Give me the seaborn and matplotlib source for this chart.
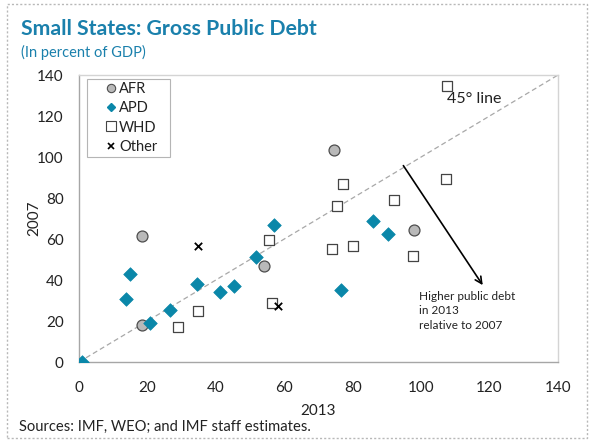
import matplotlib
matplotlib.use("Agg")
import matplotlib.pyplot as plt
import seaborn as sns
import pandas as pd
from matplotlib.patches import Rectangle
from matplotlib.lines import Line2D

# ---- data (x = 2013, y = 2007, percent of GDP) ----
afr_2013 = [18.5, 18.5, 54.1, 74.5, 98.0]
afr_2007 = [61.5, 17.9, 46.8, 103.6, 64.5]

apd_2013 = [1.0, 13.6, 15.0, 20.8, 26.5, 34.6, 41.3, 45.2, 51.6, 57.1, 76.6, 85.8, 90.2]
apd_2007 = [0.0, 30.9, 42.9, 18.9, 25.5, 38.0, 34.1, 37.1, 51.1, 66.8, 35.1, 68.9, 62.4]

whd_2013 = [28.9, 34.7, 55.6, 56.3, 73.8, 75.4, 77.3, 80.0, 92.2, 97.7, 107.4, 107.7]
whd_2007 = [17.1, 24.7, 59.5, 28.9, 55.0, 76.1, 86.8, 56.6, 78.9, 51.5, 89.1, 134.6]

oth_2013 = [34.9, 58.3]
oth_2007 = [56.4, 27.3]

groups = ["AFR", "APD", "WHD", "Other"]
x_ticks = [0, 20, 40, 60, 80, 100, 120, 140]
y_ticks = [0, 20, 40, 60, 80, 100, 120, 140]

df = pd.DataFrame({
    "x": afr_2013 + apd_2013 + whd_2013 + oth_2013,
    "y": afr_2007 + apd_2007 + whd_2007 + oth_2007,
    "group": (["AFR"] * len(afr_2013) + ["APD"] * len(apd_2013)
              + ["WHD"] * len(whd_2013) + ["Other"] * len(oth_2013)),
})

sns.set_theme(style="white")
plt.rcParams["font.family"] = ["Lato", "DejaVu Sans"]

TEAL = "#0a87a9"
TITLE = "#1a80ac"
TXT = "#222222"
styles = {
    "AFR": dict(marker="o", color="#b9b9b9", edgecolor="#4d4d4d", s=62, linewidth=0.9),
    "APD": dict(marker="D", color=TEAL, edgecolor=TEAL, s=48, linewidth=0.5),
    "WHD": dict(marker="s", color="white", edgecolor="#444444", s=55, linewidth=0.9),
    "Other": dict(marker="x", color="black", s=28, linewidth=1.3),
}

fig = plt.figure(figsize=(5.9, 4.4), dpi=100)
ax = fig.add_axes([79 / 590, 1 - 362 / 440, (558 - 79) / 590, (362 - 75) / 440])

# 45 degree line
ax.plot([0, 140], [0, 140], ls=(0, (4, 2.5)), color="#a8a8a8", lw=0.9, zorder=1)

for g in groups:
    sub = df[df["group"] == g]
    sns.scatterplot(data=sub, x="x", y="y", ax=ax, legend=False, zorder=3, **styles[g])

ax.set_xlim(0, 140)
ax.set_ylim(0, 140)
ax.set_xticks(x_ticks)
ax.set_yticks(y_ticks)
ax.set_xticklabels([str(t) for t in x_ticks])
ax.set_yticklabels([str(t) for t in y_ticks])
ax.tick_params(axis="both", direction="in", length=4, width=0.8, color="#b0b0b0",
               labelsize=11, labelcolor=TXT)
ax.tick_params(axis="x", pad=14)
ax.tick_params(axis="y", pad=11)
for side in ["left", "bottom"]:
    ax.spines[side].set_color("#a6a6a6")
    ax.spines[side].set_linewidth(1.0)
for side in ["top", "right"]:
    ax.spines[side].set_color("#d4d4d4")
    ax.spines[side].set_linewidth(1.0)
ax.set_xlabel("2013", fontsize=11, color=TXT, labelpad=6)
ax.set_ylabel("2007", fontsize=11, color=TXT, labelpad=-3)
ax.grid(False)

# legend (entries) + its frame
handles = [
    Line2D([], [], ls="", marker="o", markerfacecolor="#b9b9b9", markeredgecolor="#4d4d4d", markersize=6, markeredgewidth=0.8),
    Line2D([], [], ls="", marker="D", markerfacecolor=TEAL, markeredgecolor=TEAL, markersize=4.5),
    Line2D([], [], ls="", marker="s", markerfacecolor="white", markeredgecolor="#444444", markersize=6.5, markeredgewidth=0.8),
    Line2D([], [], ls="", marker="x", color="black", markersize=5, markeredgewidth=1.2),
]
leg = ax.legend(handles, groups, loc="upper left",
                bbox_to_anchor=((100.8 - 79) / 479, (362 - 78) / 287),
                borderaxespad=0, frameon=False, fontsize=10.5,
                handletextpad=0.15, handlelength=0.8, borderpad=0.3, labelspacing=0.35)
for t in leg.get_texts():
    t.set_color(TXT)
ax.add_patch(Rectangle(((87 - 79) / 479, (362 - 157) / 287), 83 / 479, 78 / 287,
                       transform=ax.transAxes, fill=False, edgecolor="#b5b5b5", lw=0.8,
                       zorder=4))

# annotations
ax.text(107.5, 128.5, "45° line", fontsize=11.5, color=TXT, va="center", ha="left")
ax.annotate("", xy=(118, 37.5), xytext=(94.8, 95.8),
            arrowprops=dict(arrowstyle="->", color="black", lw=1.2, shrinkA=0, shrinkB=0))
ax.text(99.4, 34.5, "Higher public debt\nin 2013\nrelative to 2007", fontsize=8.5,
        color=TXT, va="top", ha="left", linespacing=1.35)

# titles and source
fig.text(21 / 590, 1 - 29 / 440, "Small States: Gross Public Debt", fontsize=15.3,
         fontweight="bold", color=TITLE, va="center", ha="left")
fig.text(21 / 590, 1 - 52 / 440, "(In percent of GDP)", fontsize=10.5, color=TITLE,
         va="center", ha="left")
fig.text(19 / 590, 1 - 427 / 440, "Sources: IMF, WEO; and IMF staff estimates.", fontsize=10.6,
         color=TXT, va="center", ha="left")

# outer dotted frame
fig.patches.append(Rectangle((7 / 590, 2 / 440), 580 / 590, 434 / 440, transform=fig.transFigure,
                             fill=False, edgecolor="#b8b8b8", lw=1.0, ls=(0, (1.5, 1.5))))

fig.savefig("out.png", dpi=100)
